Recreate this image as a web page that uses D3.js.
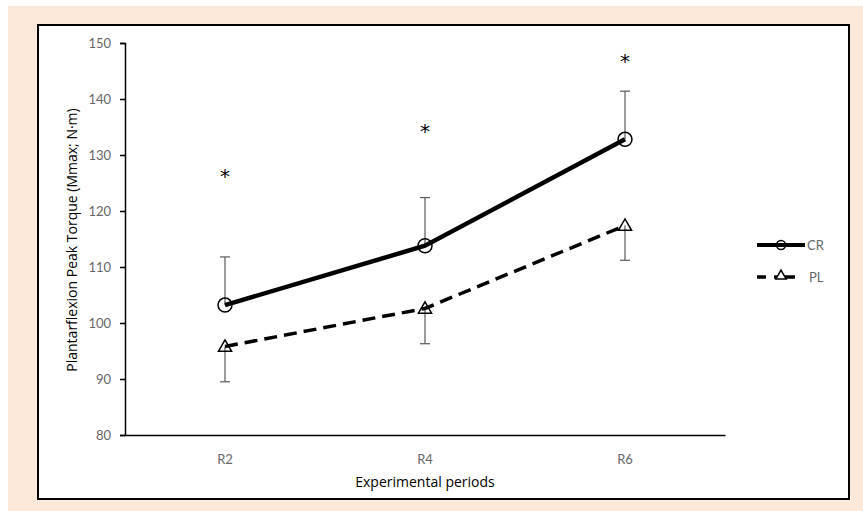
<!DOCTYPE html>
<html>
<head>
<meta charset="utf-8">
<script src="https://cdn.jsdelivr.net/npm/d3@7"></script>
<style>
body{margin:0;background:#fff;}
text{font-family:Lato,"Open Sans",sans-serif;}
</style>
</head>
<body>
<svg id="chart" width="863" height="511"></svg>
<script>
// values
var periods = ["R2", "R4", "R6"];
var crMean = [103.2, 113.8, 132.8];
var crErr = [8.6, 8.6, 8.6];
var plMean = [95.8, 102.6, 117.4];
var plErr = [6.3, 6.3, 6.2];
var starLevel = [126.4, 134.5, 147];
var yTicks = [80, 90, 100, 110, 120, 130, 140, 150];

var svg = d3.select("#chart");

// peach frame + white inner box
svg.append("rect").attr("x", 8).attr("y", 6).attr("width", 855).attr("height", 505).attr("fill", "#fce9da");
svg.append("rect").attr("x", 38).attr("y", 25).attr("width", 811).attr("height", 474)
  .attr("fill", "#fff").attr("stroke", "#000").attr("stroke-width", 2);

var x = d3.scaleBand().domain(periods).range([125, 725]);
var y = d3.scaleLinear().domain([80, 150]).range([435, 43]);
var cx = d => x(d) + x.bandwidth() / 2;

// y axis
var yAxis = svg.append("g").attr("transform", "translate(125,0)")
  .call(d3.axisLeft(y).tickValues(yTicks).tickSize(5).tickPadding(9));
yAxis.select(".domain").attr("stroke", "#000").attr("stroke-width", 1.5);
yAxis.selectAll(".tick line").attr("stroke", "#000").attr("stroke-width", 1.5);
yAxis.selectAll(".tick text").attr("fill", "#666").style("font-size", "13px")
  .style("font-family", "Lato,'Open Sans',sans-serif");

// x axis
var xAxis = svg.append("g").attr("transform", "translate(0,435)")
  .call(d3.axisBottom(x).tickSize(0).tickPadding(20));
xAxis.select(".domain").attr("stroke", "#000").attr("stroke-width", 1.5);
xAxis.selectAll(".tick text").attr("fill", "#666").style("font-size", "13px")
  .style("font-family", "Lato,'Open Sans',sans-serif");

// titles
svg.append("text").attr("x", 425).attr("y", 487).attr("text-anchor", "middle")
  .style("font-family", "'Open Sans',sans-serif").style("font-size", "14px").attr("fill", "#000").text("Experimental periods");
svg.append("text").attr("transform", "translate(77,240) rotate(-90)").attr("text-anchor", "middle")
  .style("font-family", "'Open Sans',sans-serif").style("font-size", "14px").attr("fill", "#000").text("Plantarflexion Peak Torque (Mmax; N·m)");

// error bars
function errBars(mean, err, dir) {
  var g = svg.append("g").attr("stroke", "#595959").attr("stroke-width", 1.2);
  periods.forEach(function (p, i) {
    var y0 = y(mean[i]), y1 = y(mean[i] + dir * err[i]);
    g.append("line").attr("x1", cx(p)).attr("x2", cx(p)).attr("y1", y0).attr("y2", y1);
    g.append("line").attr("x1", cx(p) - 5).attr("x2", cx(p) + 5).attr("y1", y1).attr("y2", y1);
  });
}
errBars(crMean, crErr, 1);
errBars(plMean, plErr, -1);

var line = d3.line().x(d => cx(d.p)).y(d => y(d.v));
var crData = periods.map((p, i) => ({p: p, v: crMean[i]}));
var plData = periods.map((p, i) => ({p: p, v: plMean[i]}));

svg.append("path").datum(plData).attr("d", line).attr("fill", "none").attr("stroke", "#000")
  .attr("stroke-width", 3.5).attr("stroke-dasharray", "13,7");
svg.append("path").datum(crData).attr("d", line).attr("fill", "none").attr("stroke", "#000")
  .attr("stroke-width", 4.5);

var tri = d3.symbol().type(d3.symbolTriangle).size(75);
svg.selectAll(".cr").data(crData).enter().append("circle")
  .attr("cx", d => cx(d.p)).attr("cy", d => y(d.v)).attr("r", 7)
  .attr("fill", "none").attr("stroke", "#000").attr("stroke-width", 1.5);
svg.selectAll(".pl").data(plData).enter().append("path")
  .attr("d", tri).attr("transform", d => "translate(" + cx(d.p) + "," + (y(d.v) + 1) + ")")
  .attr("fill", "none").attr("stroke", "#000").attr("stroke-width", 1.5);

// significance marks
svg.selectAll(".star").data(periods).enter().append("text")
  .attr("x", d => cx(d)).attr("y", (d, i) => y(starLevel[i]) + 8)
  .attr("text-anchor", "middle").style("font-family", "'DejaVu Sans',sans-serif")
  .style("font-size", "20px").attr("fill", "#000").text("*");

// legend
var lg = svg.append("g");
lg.append("line").attr("x1", 757).attr("x2", 805).attr("y1", 245).attr("y2", 245)
  .attr("stroke", "#000").attr("stroke-width", 4);
lg.append("circle").attr("cx", 781).attr("cy", 245).attr("r", 4.5)
  .attr("fill", "none").attr("stroke", "#000").attr("stroke-width", 1.5);
lg.append("text").attr("x", 807).attr("y", 250).style("font-size", "13px").attr("fill", "#666").text("CR");
lg.append("line").attr("x1", 757).attr("x2", 795).attr("y1", 277).attr("y2", 277)
  .attr("stroke", "#000").attr("stroke-width", 3.5).attr("stroke-dasharray", "9,8,12,0");
lg.append("path").attr("d", d3.symbol().type(d3.symbolTriangle).size(45))
  .attr("transform", "translate(781,276)").attr("fill", "#fff").attr("stroke", "#000").attr("stroke-width", 1.5);
lg.append("text").attr("x", 809).attr("y", 282).style("font-size", "13px").attr("fill", "#666").text("PL");
</script>
</body>
</html>
